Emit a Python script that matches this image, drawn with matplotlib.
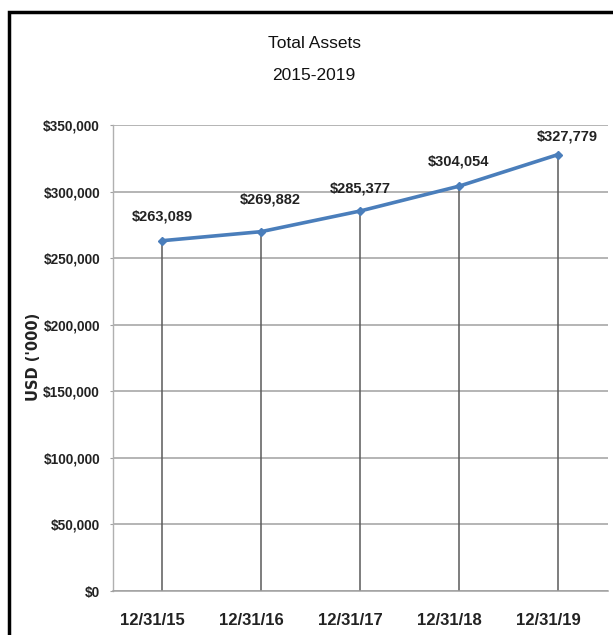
import matplotlib
matplotlib.use("Agg")
import matplotlib.pyplot as plt
import matplotlib.transforms as mtransforms
from matplotlib.patches import Rectangle
from matplotlib.ticker import FuncFormatter

categories = ["12/31/15", "12/31/16", "12/31/17", "12/31/18", "12/31/19"]
total_assets = [263089, 269882, 285377, 304054, 327779]
y_ticks = [0, 50000, 100000, 150000, 200000, 250000, 300000, 350000]
title_lines = ["Total Assets", "2015-2019"]
y_label = "USD ('000)"

FONT = ["Liberation Sans", "DejaVu Sans"]
plt.rcParams['font.family'] = FONT

fig = plt.figure(figsize=(6.13, 6.35), dpi=100)
fig.patch.set_facecolor("white")

# outer frame
fig.patches.append(Rectangle((8.5/613, -0.1), 1.2, (635-12.5)/635 + 0.1,
                             transform=fig.transFigure, fill=False,
                             edgecolor="black", linewidth=2.5))

ax = fig.add_axes([112.5/613, 1-591/635, 495/613, (591-125)/635])
x = list(range(len(categories)))

for xi, v in zip(x, total_assets):
    ax.plot([xi, xi], [0, v], color="#5a5a5a", linewidth=1.1, zorder=2)

ax.plot(x, total_assets, color="#4a7ebb", linewidth=2.6, marker="D",
        markersize=4.5, zorder=3)

offsets = [(0, 24), (9, 32), (0, 23), (0, 25), (9, 18)]
for xi, v, (dx, dy) in zip(x, total_assets, offsets):
    ax.annotate(f"${v:,}", (xi, v), xytext=(dx, dy), textcoords="offset pixels",
                ha="center", va="center", fontsize=10.5, fontweight="bold",
                color="#222222")

ax.set_xlim(-0.5, 4.5)
ax.set_ylim(0, 350000)
ax.set_yticks(y_ticks)
ax.yaxis.set_major_formatter(FuncFormatter(lambda v, p: f"${int(v):,}"))
ax.set_xticks(x)
ax.set_xticklabels(categories)
ax.grid(axis="y", color="#a0a0a0", linewidth=1.1, zorder=1)
ax.set_axisbelow(True)
for s in ["top", "right"]:
    ax.spines[s].set_visible(False)
ax.spines["left"].set_color("#b0b0b0")
ax.spines["bottom"].set_color("#a0a0a0")
ax.spines["left"].set_linewidth(1.0)
ax.spines["bottom"].set_linewidth(1.1)
ax.tick_params(axis="y", length=2.5, color="#a0a0a0", pad=6.5, labelsize=9.8)
ax.tick_params(axis="x", length=0, pad=16, labelsize=12)
shift = mtransforms.ScaledTranslation(-10/100, 0, fig.dpi_scale_trans)
for lbl in ax.get_xticklabels():
    lbl.set_transform(lbl.get_transform() + shift)
for lbl in ax.get_yticklabels() + ax.get_xticklabels():
    lbl.set_fontweight("bold")
    lbl.set_color("#222222")

fig.text(33/613, 1-357/635, y_label, rotation=90, ha="center", va="center",
         fontsize=10.5, fontweight="bold", family=["DejaVu Sans"],
         color="#222222")
fig.text(314/613, 1-43/635, title_lines[0], ha="center", va="center",
         fontsize=12.5, color="#111111")
fig.text(314/613, 1-76/635, title_lines[1], ha="center", va="center",
         fontsize=12.5, color="#111111")

fig.savefig("out.png", dpi=100, facecolor="white")
